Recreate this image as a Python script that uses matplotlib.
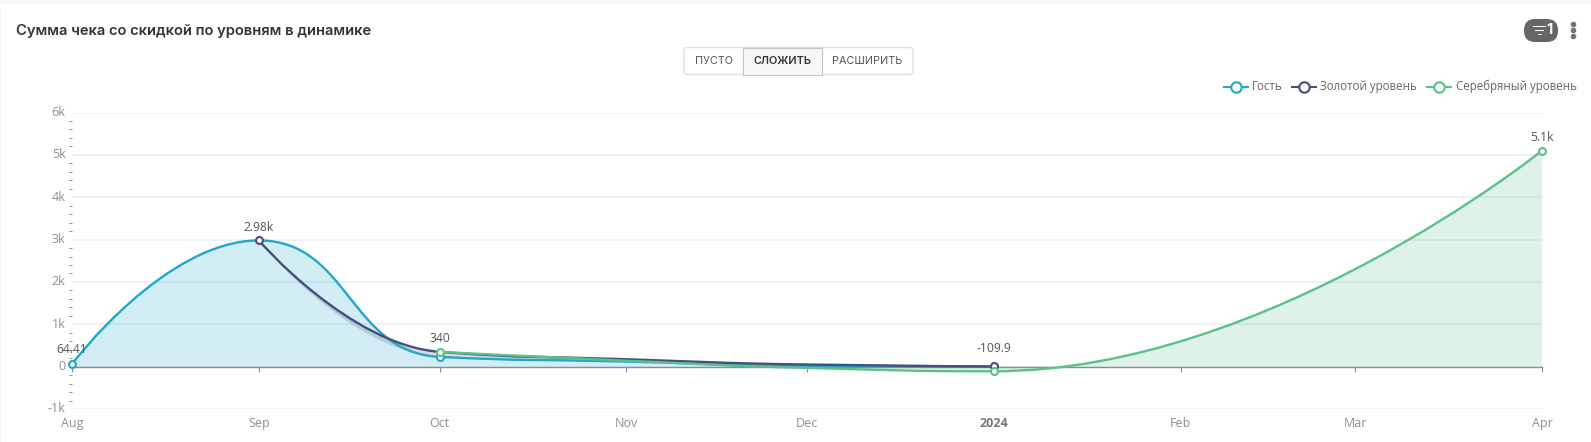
import matplotlib
matplotlib.use("Agg")
import matplotlib.pyplot as plt
import matplotlib.dates as mdates
from matplotlib.lines import Line2D
from matplotlib.path import Path
from matplotlib.patches import FancyBboxPatch, PathPatch, Rectangle
from matplotlib.ticker import FixedLocator, FuncFormatter, MultipleLocator
from matplotlib.transforms import ScaledTranslation
from datetime import date

W, H = 1591, 442

# values (stacked totals, as drawn)
guest_dates = [date(2023, 8, 1), date(2023, 9, 1), date(2023, 10, 1), date(2023, 11, 1), date(2023, 12, 1), date(2024, 1, 1)]
guest_vals = [64.41, 2980, 230, 120, 15, 0]
gold_dates = [date(2023, 9, 1), date(2023, 10, 1), date(2023, 11, 1), date(2023, 12, 1), date(2024, 1, 1)]
gold_vals = [2980, 350, 175, 50, 5]
gold_base = [2980, 230, 120, 15, 0]
silver_dates = [date(2023, 10, 1), date(2023, 11, 1), date(2023, 12, 1), date(2024, 1, 1), date(2024, 4, 1)]
silver_vals = [350, 140, -30, -109.9, 5100]
silver_base = [350, 175, 50, 5, 0]

month_ticks = [date(2023, 8, 1), date(2023, 9, 1), date(2023, 10, 1), date(2023, 11, 1),
               date(2023, 12, 1), date(2024, 1, 1), date(2024, 2, 1), date(2024, 3, 1), date(2024, 4, 1)]
month_labels = ["Aug", "Sep", "Oct", "Nov", "Dec", "2024", "Feb", "Mar", "Apr"]
legend_names = ["Гость", "Золотой уровень", "Серебряный уровень"]

BLUE = "#1FA8C9"
NAVY = "#454E7C"
GREEN = "#5AC189"

plt.rcParams["font.family"] = ["Open Sans", "DejaVu Sans"]


# monotone smoothing: flat tangent at extremes, none at the series ends
def smooth_path(xs, ys, smooth=0.5):
    n = len(xs)
    slopes = []
    for i in range(n):
        if i == 0 or i == n - 1:
            slopes.append(None)
            continue
        s1 = (ys[i] - ys[i - 1]) / (xs[i] - xs[i - 1])
        s2 = (ys[i + 1] - ys[i]) / (xs[i + 1] - xs[i])
        if s1 * s2 <= 0:
            slopes.append(0.0)
        else:
            slopes.append(2 * s1 * s2 / (s1 + s2))
    verts = [(xs[0], ys[0])]
    codes = [Path.MOVETO]
    for i in range(n - 1):
        dx = xs[i + 1] - xs[i]
        if slopes[i] is None:
            c1 = (xs[i], ys[i])
        else:
            c1 = (xs[i] + smooth * dx, ys[i] + slopes[i] * smooth * dx)
        if slopes[i + 1] is None:
            c2 = (xs[i + 1], ys[i + 1])
        else:
            c2 = (xs[i + 1] - smooth * dx, ys[i + 1] - slopes[i + 1] * smooth * dx)
        verts += [c1, c2, (xs[i + 1], ys[i + 1])]
        codes += [Path.CURVE4] * 3
    return verts, codes


# closed area between two smoothed curves, back along the lower one
def area_between(top, base):
    v1, c1 = top
    v2, c2 = base
    verts = v1 + [v2[-1]] + v2[-2::-1] + [v1[0]]
    codes = c1 + [Path.LINETO] + c2[1:] + [Path.LINETO]
    return Path(verts, codes)


fig = plt.figure(figsize=(W / 100, H / 100), dpi=100, facecolor="#F7F7F7")

# card background
bg = fig.add_axes([0, 0, 1, 1], zorder=0)
bg.set_axis_off()
bg.set_xlim(0, W)
bg.set_ylim(H, 0)
bg.add_patch(Rectangle((1, 4), W, H, fc="white", ec="none"))

ax = fig.add_axes([72 / W, 1 - 409 / H, (1542 - 72) / W, (409 - 112.5) / H], zorder=1)
ax.patch.set_alpha(0)
ax.set_xlim(mdates.date2num(month_ticks[0]), mdates.date2num(month_ticks[-1]))
ax.set_ylim(-1000, 6000)

for s in ["top", "left", "right"]:
    ax.spines[s].set_visible(False)
ax.spines["bottom"].set_position(("data", 0))
ax.spines["bottom"].set_color("#8c8c99")
ax.spines["bottom"].set_linewidth(1.0)
ax.spines["bottom"].set_zorder(2)

ax.yaxis.set_major_locator(MultipleLocator(1000))
ax.yaxis.set_minor_locator(MultipleLocator(200))
ax.yaxis.set_major_formatter(FuncFormatter(lambda v, p: "0" if v == 0 else f"{int(v / 1000)}k"))
ax.tick_params(axis="y", which="major", length=0, pad=4.5, labelsize=9, labelcolor="#8f8f8f")
ax.tick_params(axis="y", which="minor", length=2.5, width=0.7, color="#8c8c99")
ax.grid(axis="y", which="major", color="#E9EDF5", lw=1.1, zorder=0)
ax.set_axisbelow(True)
shift = ScaledTranslation(0, 1.5 / 100, fig.dpi_scale_trans)
for t in ax.get_yticklabels():
    t.set_transform(t.get_transform() + shift)

ax.xaxis.set_major_locator(FixedLocator([mdates.date2num(d) for d in month_ticks]))
ax.set_xticklabels(month_labels)
ax.tick_params(axis="x", length=3.5, width=0.8, color="#8c8c99", pad=33, labelsize=9, labelcolor="#8f8f8f")
ax.get_xticklabels()[5].set_fontweight("bold")
ax.get_xticklabels()[5].set_color("#77777f")

guest_x = [mdates.date2num(d) for d in guest_dates]
gold_x = [mdates.date2num(d) for d in gold_dates]
silver_x = [mdates.date2num(d) for d in silver_dates]

guest_line = smooth_path(guest_x, guest_vals)
gold_line = smooth_path(gold_x, gold_vals)
silver_line = smooth_path(silver_x, silver_vals)
guest_floor = ([(guest_x[0], 0), (guest_x[-1], 0)], [Path.MOVETO, Path.LINETO])

ax.add_patch(PathPatch(area_between(guest_line, guest_floor), fc=BLUE, alpha=0.2, ec="none", zorder=3))
ax.add_patch(PathPatch(area_between(gold_line, smooth_path(gold_x, gold_base)), fc=NAVY, alpha=0.2, ec="none", zorder=3))
ax.add_patch(PathPatch(area_between(silver_line, smooth_path(silver_x, silver_base)), fc=GREEN, alpha=0.2, ec="none", zorder=3))

for line, col, z in [(guest_line, BLUE, 4), (gold_line, NAVY, 5), (silver_line, GREEN, 6)]:
    ax.add_patch(PathPatch(Path(*line), fc="none", ec=col, lw=1.7, zorder=z, capstyle="round"))

marker = dict(ls="none", marker="o", ms=5, mfc="white", mew=1.5, clip_on=False)
ax.plot([guest_dates[0], guest_dates[2]], [guest_vals[0], guest_vals[2]], mec=BLUE, zorder=7, **marker)
ax.plot([gold_dates[0], gold_dates[4]], [gold_vals[0], gold_vals[4]], mec=NAVY, zorder=7, **marker)
ax.plot([silver_dates[0], silver_dates[3], silver_dates[4]],
        [silver_vals[0], silver_vals[3], silver_vals[4]], mec=GREEN, zorder=8, **marker)

lab = dict(ha="center", va="bottom", fontsize=8.7, color="#555555", zorder=9)
ax.annotate("64.41", (guest_dates[0], guest_vals[0]), xytext=(0, 5.5), textcoords="offset points", **lab)
ax.annotate("2.98k", (gold_dates[0], gold_vals[0]), xytext=(0, 4.5), textcoords="offset points", **lab)
ax.annotate("340", (silver_dates[0], silver_vals[0]), xytext=(0, 5.2), textcoords="offset points", **lab)
ax.annotate("-109.9", (silver_dates[3], silver_vals[3]), xytext=(0, 12), textcoords="offset points", **lab)
ax.annotate("5.1k", (silver_dates[4], silver_vals[4]), xytext=(0, 4.5), textcoords="offset points", **lab)

# overlay for title, buttons, legend
fg = fig.add_axes([0, 0, 1, 1], zorder=2)
fg.set_axis_off()
fg.set_xlim(0, W)
fg.set_ylim(H, 0)

fg.text(16, 31, "Сумма чека со скидкой по уровням в динамике", fontsize=10.62, family="Inter",
        fontweight="semibold", color="#333333", va="center")

fg.add_patch(FancyBboxPatch((684, 47.5), 229, 27, boxstyle="round,pad=0,rounding_size=3",
                            fc="white", ec="#E0E0E0", lw=1))
fg.add_patch(Rectangle((742.5, 47.5), 79, 27, fc="#F7F7F7", ec="#C4C4C4", lw=0.8))
fg.text(713.5, 60.5, "ПУСТО", ha="center", va="center", fontsize=7.8, family="Inter", color="#555555")
fg.text(782, 60.5, "СЛОЖИТЬ", ha="center", va="center", fontsize=7.8, family="Inter", fontweight="semibold", color="#333333")
fg.text(867, 60.5, "РАСШИРИТЬ", ha="center", va="center", fontsize=7.8, family="Inter", color="#555555")

fg.add_patch(FancyBboxPatch((1524, 19), 34, 23, boxstyle="round,pad=0,rounding_size=11",
                            fc="#666666", ec="none"))
for yy, x0, x1 in [(26, 1533, 1545), (30, 1535, 1543), (34, 1537.5, 1540.5)]:
    fg.add_line(Line2D([x0, x1], [yy, yy], color="white", lw=0.7))
fg.text(1546, 30, "1", ha="left", va="center", fontsize=10.5, family="Inter", fontweight="bold", color="white")
fg.plot([1573, 1573, 1573], [23.5, 29.5, 35.5], ls="none", marker="o", ms=3, color="#6b7680")

leg_x = [(1223.5, 1252), (1292, 1320), (1427, 1456)]
for (x0, tx), name, col in zip(leg_x, legend_names, [BLUE, NAVY, GREEN]):
    fg.add_line(Line2D([x0, x0 + 24], [87, 87], color=col, lw=1.5))
    fg.plot([x0 + 12], [87], marker="o", ms=7.5, mfc="white", mec=col, mew=1.5, ls="none")
    fg.text(tx, 86.5, name, fontsize=8.3, color="#666666", va="center")

fig.savefig("out.png", dpi=100, facecolor=fig.get_facecolor())
